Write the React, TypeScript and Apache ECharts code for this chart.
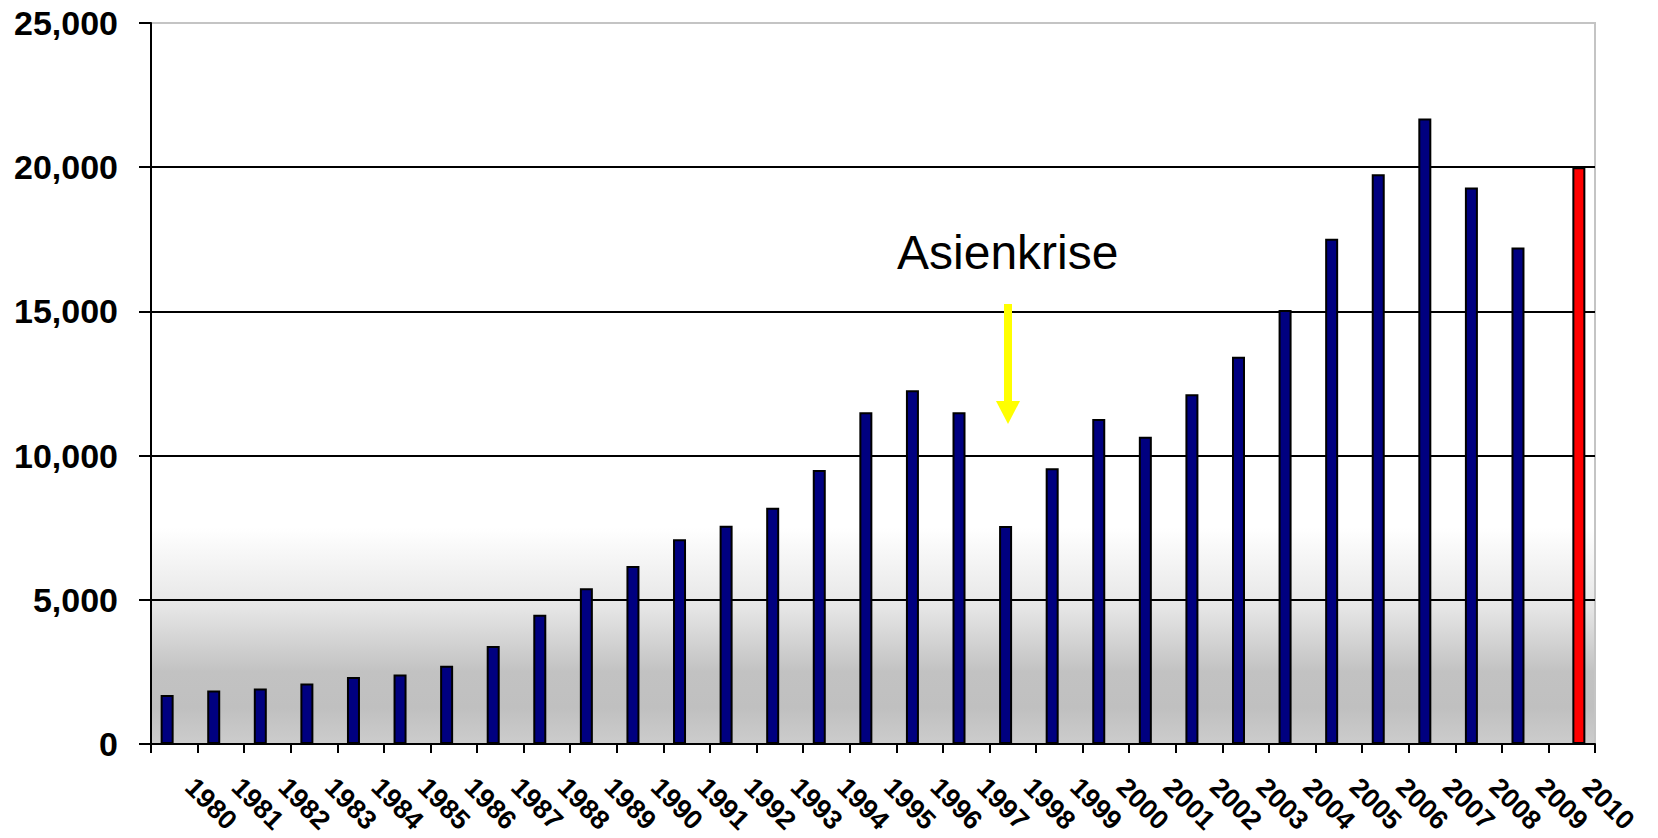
import React, { useEffect, useRef } from "react";
import * as echarts from "echarts";

const years = [
  "1980", "1981", "1982", "1983", "1984", "1985", "1986", "1987", "1988", "1989",
  "1990", "1991", "1992", "1993", "1994", "1995", "1996", "1997", "1998", "1999",
  "2000", "2001", "2002", "2003", "2004", "2005", "2006", "2007", "2008", "2009", "2010",
];

const actualValues: (number | null)[] = [
  1700, 1855, 1925, 2100, 2320, 2410, 2710, 3400, 4480, 5400,
  6175, 7100, 7570, 8195, 9500, 11500, 12270, 11500, 7560, 9560,
  11270, 10655, 12125, 13425, 15045, 17515, 19755, 21685, 19295, 17215, null,
];

const forecastValues: (number | null)[] = [
  null, null, null, null, null, null, null, null, null, null,
  null, null, null, null, null, null, null, null, null, null,
  null, null, null, null, null, null, null, null, null, null, 20000,
];

const yMin = 0;
const yMax = 25000;
const yStep = 5000;

const annotationText = "Asienkrise";

const FONT = '"Liberation Sans", Arial, sans-serif';

export default function App() {
  const ref = useRef<HTMLDivElement>(null);

  useEffect(() => {
    if (!ref.current) return;
    const chart = echarts.init(ref.current, null, { renderer: "svg" });
    chart.setOption({
      animation: false,
      backgroundColor: "#ffffff",
      grid: {
        left: 151,
        right: 63,
        top: 23,
        bottom: 94,
        containLabel: false,
        outerBoundsMode: "none",
        show: true,
        borderColor: "#c4c4c4",
        borderWidth: 2,
        backgroundColor: {
          type: "linear",
          x: 0,
          y: 0,
          x2: 0,
          y2: 1,
          colorStops: [
            { offset: 0, color: "#ffffff" },
            { offset: 0.7, color: "#ffffff" },
            { offset: 0.81, color: "#e6e6e6" },
            { offset: 0.9, color: "#c2c2c2" },
            { offset: 0.95, color: "#c0c0c0" },
            { offset: 1, color: "#cccccc" },
          ],
        },
      },
      xAxis: {
        type: "category",
        data: years,
        boundaryGap: true,
        axisLine: { show: true, lineStyle: { color: "#000", width: 2 } },
        axisTick: {
          show: true,
          interval: 0,
          length: 9,
          lineStyle: { color: "#000", width: 2 },
        },
        axisLabel: {
          interval: 0,
          rotate: -45,
          margin: 23,
          padding: [0, 0, 0, 22],
          color: "#000",
          fontFamily: FONT,
          fontWeight: "bold",
          fontSize: 27,
        },
        splitLine: { show: false },
      },
      yAxis: {
        type: "value",
        min: yMin,
        max: yMax,
        interval: yStep,
        axisLine: { show: true, lineStyle: { color: "#000", width: 2 } },
        axisTick: {
          show: true,
          length: 12,
          lineStyle: { color: "#000", width: 2 },
        },
        axisLabel: {
          margin: 33,
          color: "#000",
          fontFamily: FONT,
          fontWeight: "bold",
          fontSize: 34,
          formatter: (v: number) =>
            String(v).replace(/\B(?=(\d{3})+(?!\d))/g, ","),
        },
        splitLine: {
          show: true,
          showMaxLine: false,
          lineStyle: { color: "#000", width: 2 },
        },
      },
      series: [
        {
          type: "bar",
          data: actualValues,
          barWidth: 13,
          barGap: "10%",
          itemStyle: { color: "#000080", borderColor: "#000", borderWidth: 2 },
        },
        {
          type: "bar",
          data: forecastValues,
          barWidth: 13,
          barGap: "10%",
          itemStyle: { color: "#ff0000", borderColor: "#000", borderWidth: 2 },
        },
      ],
      graphic: [
        {
          type: "text",
          z: 100,
          style: {
            text: annotationText,
            x: 897,
            y: 252,
            textAlign: "left",
            textVerticalAlign: "middle",
            font: `48px ${FONT}`,
            fill: "#000",
          },
        },
        {
          type: "line",
          z: 100,
          shape: { x1: 1008, y1: 304, x2: 1008, y2: 402 },
          style: { stroke: "#ffff00", lineWidth: 8 },
        },
        {
          type: "polygon",
          z: 100,
          shape: {
            points: [
              [996, 401],
              [1020, 401],
              [1008, 424],
            ],
          },
          style: { fill: "#ffff00" },
        },
      ],
    });
    return () => chart.dispose();
  }, []);

  return (
    <div
      ref={ref}
      style={{ position: "fixed", left: 0, top: 0, width: 1658, height: 838 }}
    />
  );
}
